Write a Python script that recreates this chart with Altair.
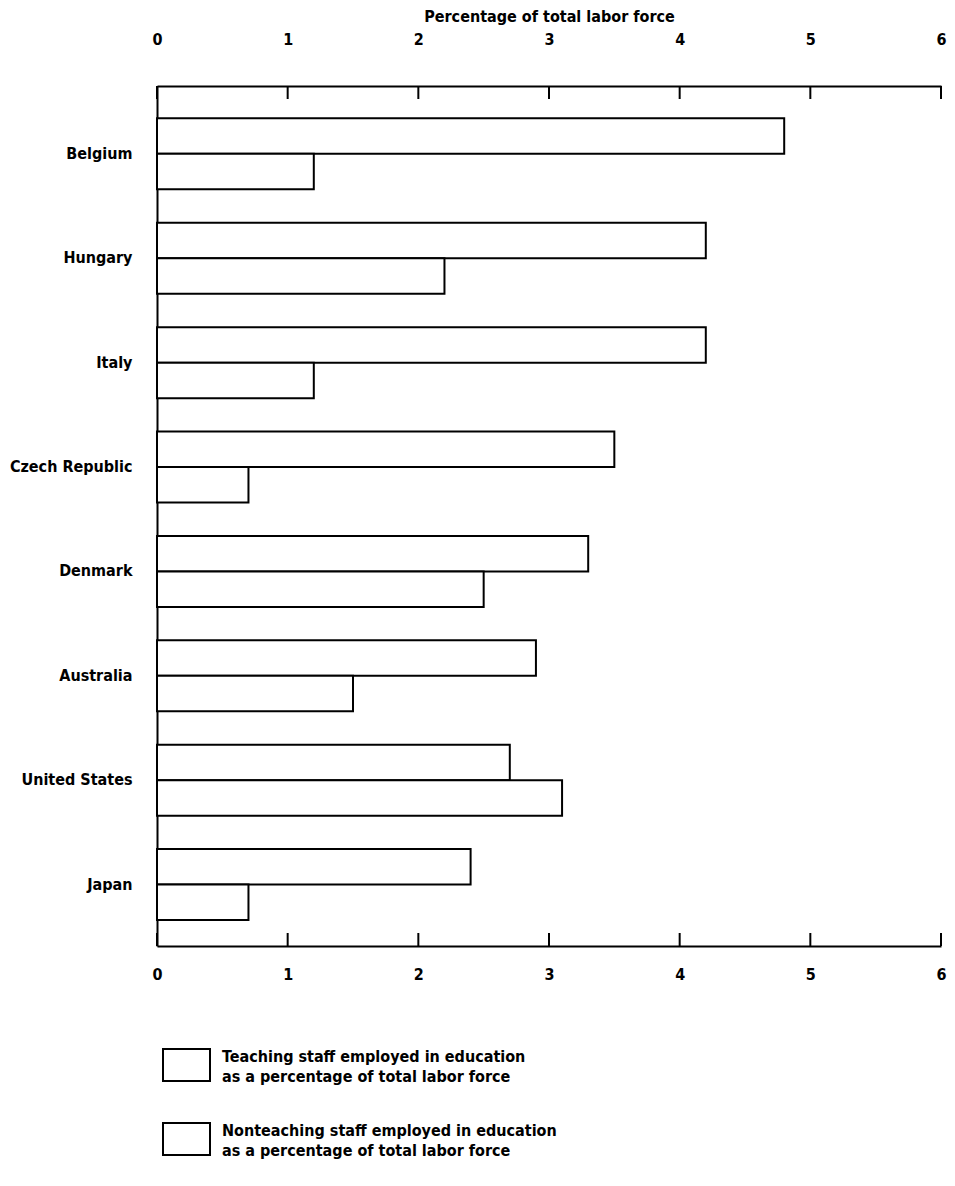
import altair as alt
import pandas as pd

countries = ["Belgium", "Hungary", "Italy", "Czech Republic", "Denmark",
             "Australia", "United States", "Japan"]
teaching = [4.8, 4.2, 4.2, 3.5, 3.3, 2.9, 2.7, 2.4]
nonteaching = [1.2, 2.2, 1.2, 0.7, 2.5, 1.5, 3.1, 0.7]
series = ["Teaching", "Nonteaching"]
legend_labels = [
    "Teaching staff employed in education\nas a percentage of total labor force",
    "Nonteaching staff employed in education\nas a percentage of total labor force",
]
ticks = [0, 1, 2, 3, 4, 5, 6]
x_title = "Percentage of total labor force"

rows = []
for c, t, n in zip(countries, teaching, nonteaching):
    rows.append({"country": c, "series": series[0], "value": t})
    rows.append({"country": c, "series": series[1], "value": n})
df = pd.DataFrame(rows)
tickdf = pd.DataFrame({"t": ticks})
one = pd.DataFrame({"k": [0]})

FONT = "Liberation Sans Narrow, Arial Narrow, DejaVu Sans Condensed, sans-serif"
FS = 16
W, H = 784, 860
TK = 13

xscale = alt.Scale(domain=[0, 6], nice=False, zero=True)

common_axis = dict(values=ticks, tickSize=0, format="d", domainWidth=2,
                   domainColor="black", labelFont=FONT, labelFontSize=FS,
                   labelFontWeight="bold", labelColor="black", grid=False,
                   labelFlush=False)

bars = alt.Chart(df).mark_bar(fill="white", stroke="black", strokeWidth=2).encode(
    x=alt.X("value:Q", scale=xscale,
            axis=alt.Axis(orient="bottom", labelPadding=20, title=None, **common_axis)),
    y=alt.Y("country:N", sort=countries,
            scale=alt.Scale(paddingInner=0, paddingOuter=0.119, align=0.63),
            axis=alt.Axis(title=None, ticks=False, domainWidth=2, domainColor="black",
                          labelPadding=25, labelFont=FONT, labelFontSize=FS,
                          labelFontWeight="bold", labelColor="black")),
    yOffset=alt.YOffset("series:N", sort=series,
                        scale=alt.Scale(paddingInner=0, paddingOuter=0.47)),
)

top_ticks = alt.Chart(tickdf).mark_rule(color="black", strokeWidth=2).encode(
    x=alt.X("t:Q", scale=xscale,
            axis=alt.Axis(orient="top", labelPadding=39, title=x_title,
                          titleFont=FONT, titleFontSize=FS, titleFontWeight="bold",
                          titleColor="black", titlePadding=7, **common_axis)),
    y=alt.value(0), y2=alt.value(TK),
)

bottom_ticks = alt.Chart(tickdf).mark_rule(color="black", strokeWidth=2).encode(
    x=alt.X("t:Q", scale=xscale, axis=None),
    y=alt.value(H - TK), y2=alt.value(H),
)

legend_layers = []
for i, lab in enumerate(legend_labels):
    y0 = H + 103 + i * 74
    legend_layers.append(
        alt.Chart(one).mark_rect(fill="white", stroke="black", strokeWidth=2).encode(
            x=alt.value(6), x2=alt.value(53), y=alt.value(y0), y2=alt.value(y0 + 32)))
    legend_layers.append(
        alt.Chart(one).mark_text(align="left", baseline="top", font=FONT, fontSize=FS,
                                 fontWeight="bold", lineBreak="\n", lineHeight=20,
                                 color="black").encode(
            x=alt.value(65), y=alt.value(y0), text=alt.value(lab)))

chart = alt.layer(bars, top_ticks, bottom_ticks, *legend_layers).resolve_scale(
    x="shared").resolve_axis(x="independent").properties(
    width=W, height=H, background="white",
    padding={"left": 1, "top": 0, "right": 0, "bottom": 5}).configure_view(stroke=None)

chart.save("out.html", embed_options={"renderer": "svg", "actions": False})
